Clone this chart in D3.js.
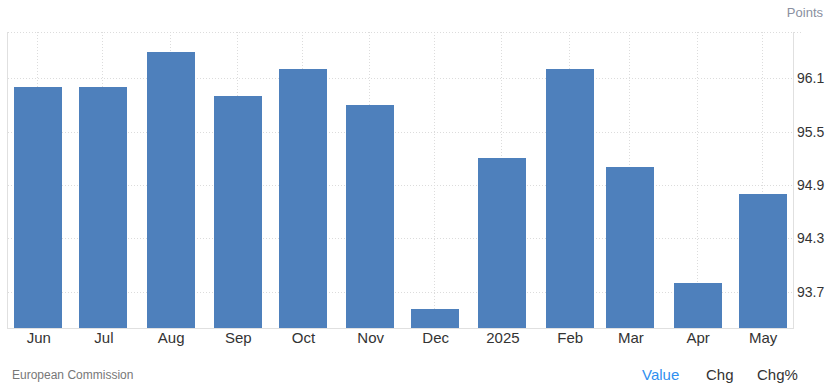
<!DOCTYPE html>
<html>
<head>
<meta charset="utf-8">
<script src="https://cdn.jsdelivr.net/npm/d3@7"></script>
<style>
  html, body { margin: 0; padding: 0; background: #fff; }
  svg { display: block; font-family: "Liberation Sans", Arial, sans-serif; }
</style>
</head>
<body>
<svg id="chart" width="832" height="392"></svg>
<script>
const dates = ["2024-06-01","2024-07-01","2024-08-01","2024-09-01","2024-10-01","2024-11-01",
               "2024-12-01","2025-01-01","2025-02-01","2025-03-01","2025-04-01","2025-05-01"];
const tickLabels = ["Jun","Jul","Aug","Sep","Oct","Nov","Dec","2025","Feb","Mar","Apr","May"];
const values = [96.0, 96.0, 96.4, 95.9, 96.2, 95.8, 93.5, 95.2, 96.2, 95.1, 93.8, 94.8];
const yTicks = [93.7, 94.3, 94.9, 95.5, 96.1];

(function () {
const parse = d3.utcParse("%Y-%m-%d");
const data = dates.map((d, i) => ({ date: parse(d), label: tickLabels[i], value: values[i] }));

const svg = d3.select("#chart");
const pLeft = 8, pRight = 793, pTop = 32, pBottom = 328;

const x = d3.scaleUtc()
  .domain([parse("2024-05-18"), parse("2025-05-15")])
  .range([pLeft, pRight]);
const y = d3.scaleLinear().domain([93.29, 96.62]).range([pBottom, pTop]);

const barW = 48;
const grid = "#dcdcdc";

// horizontal dotted gridlines
svg.append("g").selectAll("line").data(yTicks).join("line")
  .attr("x1", pLeft).attr("x2", pRight)
  .attr("y1", d => Math.round(y(d)) + 0.5).attr("y2", d => Math.round(y(d)) + 0.5)
  .attr("stroke", grid).attr("stroke-dasharray", "1,2");
// top border dotted
svg.append("line").attr("x1", pLeft).attr("x2", 803).attr("y1", pTop + 0.5).attr("y2", pTop + 0.5)
  .attr("stroke", grid).attr("stroke-dasharray", "1,2");
// vertical dotted gridlines
svg.append("g").selectAll("line").data(data).join("line")
  .attr("x1", d => Math.round(x(d.date)) - 0.5).attr("x2", d => Math.round(x(d.date)) - 0.5)
  .attr("y1", pTop).attr("y2", pBottom)
  .attr("stroke", grid).attr("stroke-dasharray", "1,2");

// bars
svg.append("g").selectAll("rect").data(data).join("rect")
  .attr("x", d => Math.round(x(d.date) - barW / 2))
  .attr("width", barW)
  .attr("y", d => Math.round(y(d.value)))
  .attr("height", d => pBottom - Math.round(y(d.value)))
  .attr("fill", "#4e80bc");

// axis lines
svg.append("line").attr("x1", pLeft - 0.5).attr("x2", pLeft - 0.5).attr("y1", pTop).attr("y2", pBottom)
  .attr("stroke", "#e0e0e0");
svg.append("line").attr("x1", pRight + 0.5).attr("x2", pRight + 0.5).attr("y1", pTop).attr("y2", pBottom)
  .attr("stroke", "#e0e0e0");
svg.append("line").attr("x1", pLeft - 1).attr("x2", pRight + 1).attr("y1", pBottom + 0.5).attr("y2", pBottom + 0.5)
  .attr("stroke", "#e0e0e0");

// x axis labels
const xAxis = d3.axisBottom(x)
  .tickValues(data.map(d => d.date))
  .tickFormat((d, i) => tickLabels[i])
  .tickSize(0).tickPadding(4);
const gx = svg.append("g").attr("transform", `translate(0,${pBottom})`).call(xAxis);
gx.select(".domain").remove();
gx.selectAll("text").attr("font-size", 15).attr("fill", "#333").attr("font-family", "Liberation Sans, Arial, sans-serif");

// y axis labels
const yAxis = d3.axisRight(y).tickValues(yTicks).tickFormat(d3.format(".1f")).tickSize(0).tickPadding(4);
const gy = svg.append("g").attr("transform", `translate(${pRight},0)`).call(yAxis);
gy.select(".domain").remove();
gy.selectAll("text").attr("font-size", 14).attr("fill", "#333").attr("font-family", "Liberation Sans, Arial, sans-serif");

// titles and footer
svg.append("text").attr("x", 823).attr("y", 17).attr("text-anchor", "end")
  .attr("font-size", 13).attr("fill", "#8a8fa0").text("Points");
svg.append("text").attr("x", 12).attr("y", 379)
  .attr("font-size", 12).attr("fill", "#777").text("European Commission");
svg.append("text").attr("x", 642).attr("y", 380)
  .attr("font-size", 15).attr("fill", "#2f8ff0").text("Value");
svg.append("text").attr("x", 706).attr("y", 380)
  .attr("font-size", 15).attr("fill", "#333").text("Chg");
svg.append("text").attr("x", 757).attr("y", 380)
  .attr("font-size", 15).attr("fill", "#333").text("Chg%");
})();
</script>
</body>
</html>
